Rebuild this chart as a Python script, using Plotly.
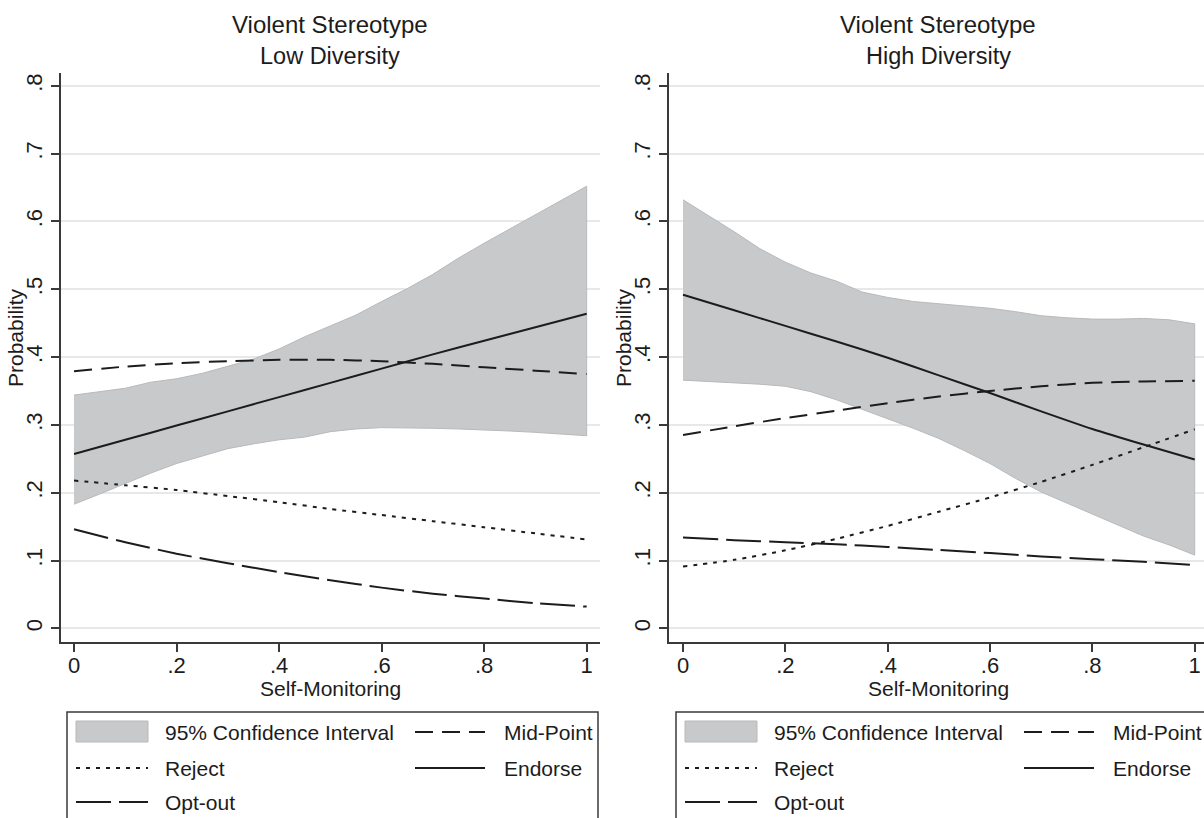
import plotly.graph_objects as go

# ---------------- data ----------------
x_ci = [0, .05, .1, .15, .2, .25, .3, .35, .4, .45, .5, .55, .6, .65, .7, .75, .8, .85, .9, .95, 1]
x_line = [0, .1, .2, .3, .4, .5, .6, .7, .8, .9, 1]

# Low diversity panel
low_ci_upper = [.344, .349, .354, .363, .368, .376, .386, .397, .412, .430, .446, .462, .482, .501, .522, .546, .568, .589, .610, .630, .652]
low_ci_lower = [.183, .198, .213, .229, .243, .254, .265, .272, .278, .282, .290, .294, .296, .296, .295, .294, .293, .291, .289, .287, .284]
low_endorse = [.257, .278, .299, .320, .341, .362, .383, .404, .424, .444, .464]
low_mid = [.379, .386, .391, .394, .396, .396, .394, .390, .385, .380, .375]
low_reject = [.218, .211, .204, .195, .186, .176, .167, .158, .149, .140, .131]
low_optout = [.146, .127, .110, .096, .083, .071, .060, .051, .044, .037, .032]

# High diversity panel
high_ci_upper = [.632, .609, .585, .560, .540, .524, .512, .496, .488, .482, .479, .475, .472, .467, .461, .458, .456, .456, .457, .455, .449]
high_ci_lower = [.366, .365, .362, .360, .357, .349, .337, .322, .309, .295, .280, .262, .243, .221, .201, .184, .168, .152, .136, .123, .108]
high_endorse = [.492, .469, .446, .423, .399, .373, .347, .320, .294, .271, .249]
high_mid = [.285, .298, .310, .321, .332, .342, .350, .357, .362, .364, .365]
high_reject = [.091, .101, .115, .132, .151, .172, .193, .216, .241, .267, .2935]
high_optout = [.134, .130, .127, .124, .120, .1155, .111, .106, .102, .098, .0934]

panel_titles = [("Violent Stereotype", "Low Diversity"), ("Violent Stereotype", "High Diversity")]
x_tickvals = [0, .2, .4, .6, .8, 1]
x_ticktext = ["0", ".2", ".4", ".6", ".8", "1"]
y_tickvals = [0, .1, .2, .3, .4, .5, .6, .7, .8]
y_ticktext = ["0", ".1", ".2", ".3", ".4", ".5", ".6", ".7", ".8"]
x_title = "Self-Monitoring"
y_title = "Probability"
legend_labels = ["95% Confidence Interval", "Mid-Point", "Reject", "Endorse", "Opt-out"]

# ---------------- styles ----------------
W, H = 1204, 818
FONT = "Liberation Sans, Arial, Helvetica, sans-serif"
INK = "#1c1c1c"
AX = "#3a3a3a"
CI_FILL = "#c8c9cb"
CI_EDGE = "#b8b9bb"
DASH_MID = "18px,9px"
DASH_REJ = "4px,6px"
DASH_OPT = "35px,8px"
LW = 2


def px(x):
    return x / W


def py(y):
    return 1 - y / H


fig = go.Figure()

panels = [
    ("x", "y", low_ci_upper, low_ci_lower, low_endorse, low_mid, low_reject, low_optout),
    ("x2", "y2", high_ci_upper, high_ci_lower, high_endorse, high_mid, high_reject, high_optout),
]

for xa, ya, up, lo, en, mid, rej, opt in panels:
    fig.add_trace(go.Scatter(
        x=x_ci + x_ci[::-1], y=up + lo[::-1], xaxis=xa, yaxis=ya,
        fill="toself", fillcolor=CI_FILL, mode="lines",
        line=dict(color=CI_EDGE, width=1), hoverinfo="skip"))
    for vals, dash in [(mid, DASH_MID), (rej, DASH_REJ), (opt, DASH_OPT), (en, "solid")]:
        fig.add_trace(go.Scatter(
            x=x_line, y=vals, xaxis=xa, yaxis=ya, mode="lines",
            line=dict(color=INK, width=LW, dash=dash, shape="spline", smoothing=0.6)))

common_x = dict(tickvals=x_tickvals, ticktext=x_ticktext, showline=True, linecolor=AX, linewidth=1.5,
                ticks="outside", ticklen=8, tickwidth=1.5, tickcolor=AX, showgrid=False, zeroline=False,
                ticklabelstandoff=-5,
                tickfont=dict(size=22, color=INK, family=FONT))
common_y = dict(tickvals=y_tickvals, ticktext=y_ticktext, showline=True, linecolor=AX, linewidth=1.5,
                ticks="outside", ticklen=8, tickwidth=1.5, tickcolor=AX, showgrid=True,
                gridcolor="#e8e8e8", gridwidth=1.5, zeroline=False, tickangle=-90,
                tickfont=dict(size=22, color=INK, family=FONT), range=[-0.0202, 0.819],
                domain=[py(642), py(73)])

fig.update_layout(
    width=W, height=H, margin=dict(l=0, r=0, t=0, b=0),
    paper_bgcolor="white", plot_bgcolor="white", showlegend=False,
    font=dict(family=FONT, color=INK),
    xaxis=dict(domain=[px(61), px(600)], range=[-0.0254, 1.026], anchor="y", **common_x),
    yaxis=dict(anchor="x", **common_y),
    xaxis2=dict(domain=[px(669), 1.0], range=[-0.0274, 1.0182], anchor="y2", **common_x),
    yaxis2=dict(anchor="x2", **common_y),
)

annotations = []
shapes = []


def ann(text, x, y, size, xanchor="center", angle=0):
    annotations.append(dict(text=text, x=px(x), y=py(y), xref="paper", yref="paper",
                            xanchor=xanchor, yanchor="middle", showarrow=False, textangle=angle,
                            font=dict(size=size, family=FONT, color=INK)))


for i, (t1, t2) in enumerate(panel_titles):
    cx = 330 if i == 0 else 938
    ann(t1, cx, 25, 24)
    ann(t2, cx, 56, 23.5)
    ann(x_title, cx, 688, 21)
    ann(y_title, 16 if i == 0 else 624, 338, 21, angle=-90)

    # legend box
    bx = 67 if i == 0 else 676
    right = 598 if i == 0 else 1215
    shapes.append(dict(type="rect", xref="paper", yref="paper", x0=px(bx), x1=px(right),
                       y0=py(840), y1=py(712), line=dict(color=AX, width=1.5), fillcolor="white",
                       layer="below"))
    # CI swatch
    shapes.append(dict(type="rect", xref="paper", yref="paper", x0=px(bx + 9), x1=px(bx + 81),
                       y0=py(742), y1=py(721), line=dict(color=CI_EDGE, width=1), fillcolor=CI_FILL))
    rows = [732, 768, 802]
    samples = [
        (bx + 348, bx + 418, rows[0], DASH_MID),
        (bx + 9, bx + 81, rows[1], DASH_REJ),
        (bx + 348, bx + 418, rows[1], "solid"),
        (bx + 9, bx + 81, rows[2], DASH_OPT),
    ]
    for x0, x1, yy, dash in samples:
        shapes.append(dict(type="line", xref="paper", yref="paper", x0=px(x0), x1=px(x1),
                           y0=py(yy), y1=py(yy), line=dict(color=INK, width=LW, dash=dash)))
    text_pos = [
        (legend_labels[0], bx + 96, rows[0]),
        (legend_labels[1], bx + 435, rows[0]),
        (legend_labels[2], bx + 96, rows[1]),
        (legend_labels[3], bx + 435, rows[1]),
        (legend_labels[4], bx + 96, rows[2]),
    ]
    for txt, tx, ty in text_pos:
        ann(txt, tx, ty, 21, xanchor="left")

fig.update_layout(annotations=annotations, shapes=shapes)
fig.write_html("out.html")
